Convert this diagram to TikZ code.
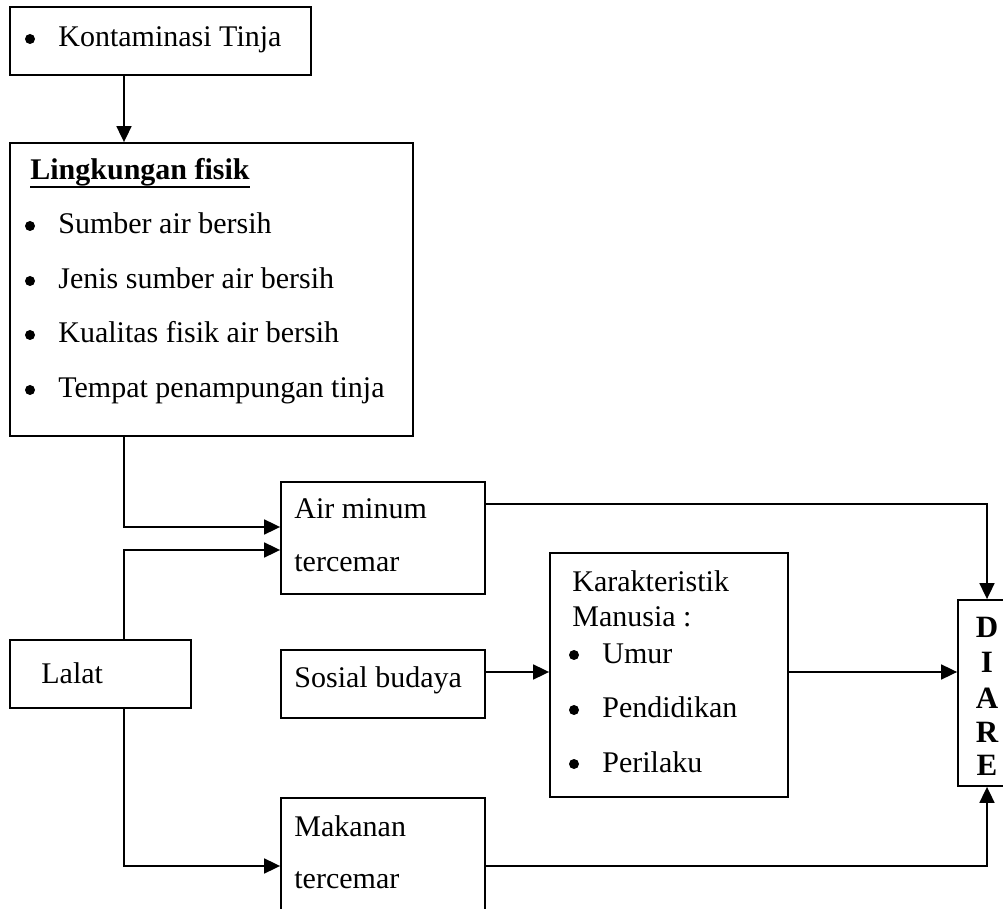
\documentclass[tikz,border=0pt]{standalone}
\usepackage{fontspec}
\setmainfont{Liberation Serif}
\usetikzlibrary{fit,arrows.meta}
\begin{document}
\begin{tikzpicture}[x=0.5pt,y=-0.5pt,
  box/.style={draw, line width=0.9pt, inner sep=0pt, rectangle},
  txt/.style={inner sep=0pt, anchor=base west, font=\fontsize{15}{18}\selectfont},
  dot/.style={circle, fill, inner sep=0pt, minimum size=5pt},
  let/.style={inner sep=0pt, anchor=base, font=\fontsize{15.5}{18}\selectfont\bfseries},
  arr/.style={line width=0.9pt, -{Triangle[length=8pt,width=7.5pt]}}]
\useasboundingbox (0,0) rectangle (1003,909);
\clip (0,0) rectangle (1003,909);

% boxes
\node[box, fit={(10,7)(311,75)}] (kont) {};
\node[box, fit={(10,143)(413,436)}] (ling) {};
\node[box, fit={(281,482)(485,594)}] (air) {};
\node[box, fit={(10,640)(191,708)}] (lalat) {};
\node[box, fit={(281,650)(485,718)}] (sos) {};
\node[box, fit={(281,798)(485,930)}] (mak) {};
\node[box, fit={(550,553)(788,797)}] (kar) {};
\node[box, fit={(958,600)(1012,786)}] (diare) {};

% texts
\node[dot] (b0) at (30,39) {};
\node[txt] (t0) at (58,47) {Kontaminasi Tinja};

\node[txt, font=\fontsize{15}{18}\selectfont\bfseries] (t1) at (30,180) {Lingkungan fisik};
\draw[line width=1.3pt] (t1.base west) ++(0,7) coordinate (u1) -- (u1 -| t1.east);
\node[dot] (b1) at (30,226) {};
\node[txt] (t2) at (58,234) {Sumber air bersih};
\node[dot] (b2) at (30,281) {};
\node[txt] (t3) at (58,289) {Jenis sumber air bersih};
\node[dot] (b3) at (30,335) {};
\node[txt] (t4) at (58,343) {Kualitas fisik air bersih};
\node[dot] (b4) at (30,390) {};
\node[txt] (t5) at (58,398) {Tempat penampungan tinja};

\node[txt] (t6) at (294,519) {Air minum};
\node[txt] (t7) at (294,572) {tercemar};

\node[txt] (t8) at (41,683) {Lalat};

\node[txt] (t9) at (294,688) {Sosial budaya};

\node[txt] (t10) at (294,836) {Makanan};
\node[txt] (t11) at (294,888) {tercemar};

\node[txt] (t12) at (572,592) {Karakteristik};
\node[txt] (t13) at (572,626) {Manusia :};
\node[dot] (b5) at (574,655) {};
\node[txt] (t14) at (602,663) {Umur};
\node[dot] (b6) at (574,710) {};
\node[txt] (t15) at (602,718) {Pendidikan};
\node[dot] (b7) at (574,764) {};
\node[txt] (t16) at (602,772) {Perilaku};

\node[let] (d1) at (987,638) {D};
\node[let] (d2) at (987,673) {I};
\node[let] (d3) at (987,708) {A};
\node[let] (d4) at (987,742) {R};
\node[let] (d5) at (987,776) {E};

% guide coordinates
\coordinate (xa) at (124,0);
\coordinate (xd) at (987,0);
\coordinate (ya) at (0,527);
\coordinate (yb) at (0,550);
\coordinate (yc) at (0,866);
\coordinate (yd) at (0,672);
\coordinate (ye) at (0,504);

% connectors
\draw[arr] (kont.south -| xa) -- (ling.north -| xa);
\draw[arr] (ling.south -| xa) |- (air.west |- ya);
\draw[arr] (lalat.north -| xa) |- (air.west |- yb);
\draw[arr] (lalat.south -| xa) |- (mak.west |- yc);
\draw[arr] (sos.east |- yd) -- (kar.west |- yd);
\draw[arr] (kar.east |- yd) -- (diare.west |- yd);
\draw[arr] (air.east |- ye) -| (diare.north -| xd);
\draw[arr] (mak.east |- yc) -| (diare.south -| xd);
\end{tikzpicture}
\end{document}
